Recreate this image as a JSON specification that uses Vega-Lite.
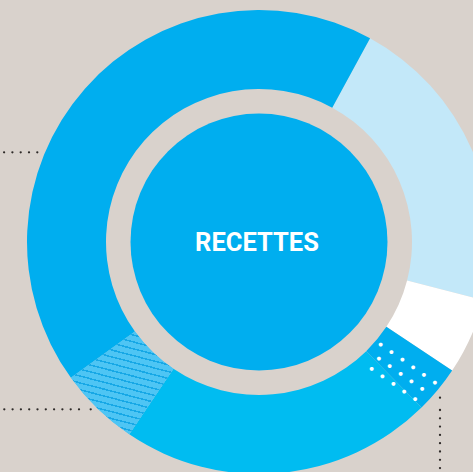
{
  "$schema": "https://vega.github.io/schema/vega-lite/v6.json",
  "autosize": {"type": "none"},
  "padding": {"left": 45, "top": 12, "right": 0, "bottom": 0},
  "width": 428,
  "height": 460,
  "background": "#D9D2CC",
  "config": {"view": {"stroke": null}},
  "datasets": {
    "parts": [
      {"cat": "Part A", "rank": 1, "value": 21.1},
      {"cat": "Part B", "rank": 2, "value": 5.3},
      {"cat": "Part C", "rank": 3, "value": 3.3},
      {"cat": "Part D", "rank": 4, "value": 21.8},
      {"cat": "Part E", "rank": 5, "value": 5.6},
      {"cat": "Part F", "rank": 6, "value": 42.9}
    ],
    "leaders": [
      {"x": -221.7, "x2": -262, "y": 89.7, "y2": 89.7},
      {"x": -180, "x2": -262, "y": -167.3, "y2": -167.3},
      {"x": -168.3, "x2": -168.6, "y": -167.3, "y2": -167.3},
      {"x": 181, "x2": 181, "y": -168, "y2": -240},
      {"x": 181, "x2": 181, "y": -155.7, "y2": -156}
    ]
  },
  "layer": [
    {
      "data": {"name": "parts"},
      "mark": {"type": "arc", "outerRadius": 232, "innerRadius": 153, "stroke": null},
      "encoding": {
        "theta": {"field": "value", "type": "quantitative", "stack": true, "scale": {"range": [0.49916, 6.78235]}},
        "order": {"field": "rank", "type": "quantitative"},
        "color": {
          "field": "cat", "type": "nominal", "legend": null,
          "scale": {
            "domain": ["Part A", "Part B", "Part C", "Part D", "Part E", "Part F"],
            "range": ["#C3E8F9", "#FFFFFF", "#00AEEF", "#00BCF1", "#4EC5F4", "#00AEEF"]
          }
        }
      }
    },
    {
      "data": {"name": "parts"},
      "mark": {
        "type": "arc", "outerRadius": 232, "innerRadius": 153, "stroke": null,
        "fill": {
          "gradient": "linear", "x1": 0.63, "y1": 0, "x2": 0.37, "y2": 1,
          "stops": [
            {"offset": 0, "color": "#4EC5F4"},
            {"offset": 0.03, "color": "#4EC5F4"}, {"offset": 0.03, "color": "#17A8E6"}, {"offset": 0.044, "color": "#17A8E6"}, {"offset": 0.044, "color": "#4EC5F4"},
            {"offset": 0.0925, "color": "#4EC5F4"}, {"offset": 0.0925, "color": "#17A8E6"}, {"offset": 0.1065, "color": "#17A8E6"}, {"offset": 0.1065, "color": "#4EC5F4"},
            {"offset": 0.155, "color": "#4EC5F4"}, {"offset": 0.155, "color": "#17A8E6"}, {"offset": 0.169, "color": "#17A8E6"}, {"offset": 0.169, "color": "#4EC5F4"},
            {"offset": 0.2175, "color": "#4EC5F4"}, {"offset": 0.2175, "color": "#17A8E6"}, {"offset": 0.2315, "color": "#17A8E6"}, {"offset": 0.2315, "color": "#4EC5F4"},
            {"offset": 0.28, "color": "#4EC5F4"}, {"offset": 0.28, "color": "#17A8E6"}, {"offset": 0.294, "color": "#17A8E6"}, {"offset": 0.294, "color": "#4EC5F4"},
            {"offset": 0.3425, "color": "#4EC5F4"}, {"offset": 0.3425, "color": "#17A8E6"}, {"offset": 0.3565, "color": "#17A8E6"}, {"offset": 0.3565, "color": "#4EC5F4"},
            {"offset": 0.405, "color": "#4EC5F4"}, {"offset": 0.405, "color": "#17A8E6"}, {"offset": 0.419, "color": "#17A8E6"}, {"offset": 0.419, "color": "#4EC5F4"},
            {"offset": 0.4675, "color": "#4EC5F4"}, {"offset": 0.4675, "color": "#17A8E6"}, {"offset": 0.4815, "color": "#17A8E6"}, {"offset": 0.4815, "color": "#4EC5F4"},
            {"offset": 0.53, "color": "#4EC5F4"}, {"offset": 0.53, "color": "#17A8E6"}, {"offset": 0.544, "color": "#17A8E6"}, {"offset": 0.544, "color": "#4EC5F4"},
            {"offset": 0.5925, "color": "#4EC5F4"}, {"offset": 0.5925, "color": "#17A8E6"}, {"offset": 0.6065, "color": "#17A8E6"}, {"offset": 0.6065, "color": "#4EC5F4"},
            {"offset": 0.655, "color": "#4EC5F4"}, {"offset": 0.655, "color": "#17A8E6"}, {"offset": 0.669, "color": "#17A8E6"}, {"offset": 0.669, "color": "#4EC5F4"},
            {"offset": 0.7175, "color": "#4EC5F4"}, {"offset": 0.7175, "color": "#17A8E6"}, {"offset": 0.7315, "color": "#17A8E6"}, {"offset": 0.7315, "color": "#4EC5F4"},
            {"offset": 0.78, "color": "#4EC5F4"}, {"offset": 0.78, "color": "#17A8E6"}, {"offset": 0.794, "color": "#17A8E6"}, {"offset": 0.794, "color": "#4EC5F4"},
            {"offset": 0.8425, "color": "#4EC5F4"}, {"offset": 0.8425, "color": "#17A8E6"}, {"offset": 0.8565, "color": "#17A8E6"}, {"offset": 0.8565, "color": "#4EC5F4"},
            {"offset": 0.905, "color": "#4EC5F4"}, {"offset": 0.905, "color": "#17A8E6"}, {"offset": 0.919, "color": "#17A8E6"}, {"offset": 0.919, "color": "#4EC5F4"},
            {"offset": 0.9675, "color": "#4EC5F4"}, {"offset": 0.9675, "color": "#17A8E6"}, {"offset": 0.9815, "color": "#17A8E6"}, {"offset": 0.9815, "color": "#4EC5F4"},
            {"offset": 1, "color": "#4EC5F4"}
          ]
        }
      },
      "encoding": {
        "theta": {"field": "value", "type": "quantitative", "stack": true},
        "order": {"field": "rank", "type": "quantitative"},
        "opacity": {"condition": {"test": "datum.cat === 'Part E'", "value": 1}, "value": 0}
      }
    },
    {
      "data": {"name": "parts"},
      "mark": {
        "type": "text", "radius": 192, "angle": 35, "align": "center", "baseline": "middle",
        "font": "DejaVu Sans Mono", "fontWeight": "bold", "fontSize": 11, "lineHeight": 12.5, "color": "#FFFFFF",
        "text": ["• • • • • •", " • • • • • ", "• • • • •  "]
      },
      "encoding": {
        "theta": {"field": "value", "type": "quantitative", "stack": true},
        "order": {"field": "rank", "type": "quantitative"},
        "opacity": {"condition": {"test": "datum.cat === 'Part C'", "value": 1}, "value": 0}
      }
    },
    {
      "data": {"values": [{"d": 1}]},
      "mark": {"type": "arc", "theta": 0, "theta2": 6.2832, "outerRadius": 128.5, "innerRadius": 0, "fill": "#00AEEF", "stroke": null},
      "encoding": {}
    },
    {
      "data": {"values": [{"label": "RECETTES"}]},
      "mark": {"type": "text", "font": "Roboto", "fontWeight": "bold", "fontSize": 25.5, "color": "#FFFFFF", "align": "center", "baseline": "middle", "dx": -2, "dy": 1},
      "encoding": {"text": {"field": "label", "type": "nominal"}}
    },
    {
      "data": {"name": "leaders"},
      "mark": {"type": "rule", "color": "#2E2A28", "strokeWidth": 2.3, "strokeCap": "round", "strokeDash": [0, 8.3]},
      "encoding": {
        "x": {"field": "x", "type": "quantitative", "scale": {"domain": [-214, 214]}, "axis": null},
        "x2": {"field": "x2"},
        "y": {"field": "y", "type": "quantitative", "scale": {"domain": [-230, 230]}, "axis": null},
        "y2": {"field": "y2"}
      }
    }
  ]
}
